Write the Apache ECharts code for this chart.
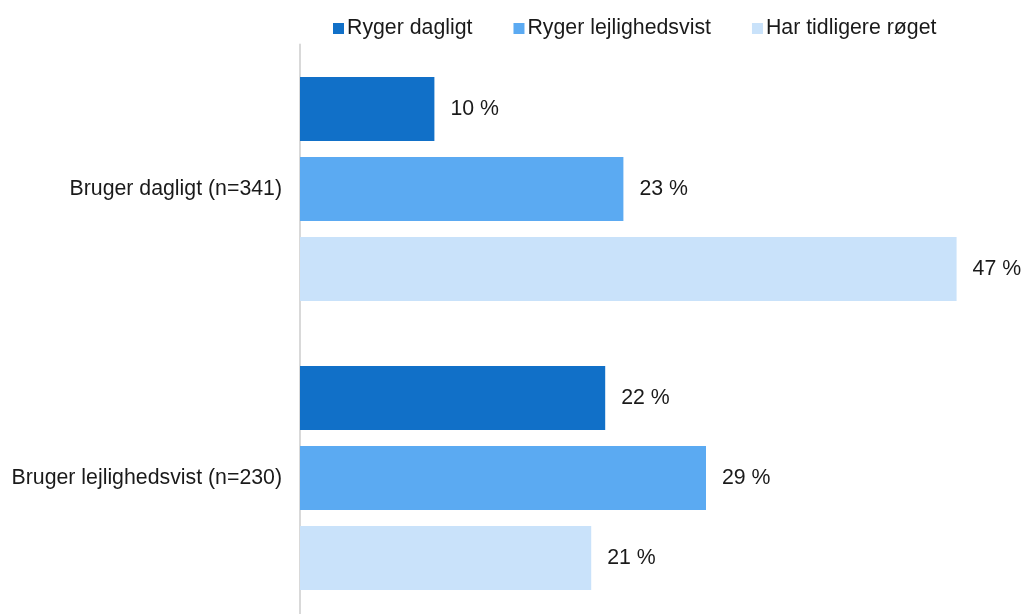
<!DOCTYPE html>
<html><head><meta charset="utf-8">
<script src="https://cdn.jsdelivr.net/npm/echarts@6/dist/echarts.min.js"></script>
<style>html,body{margin:0;padding:0;background:#fff}#c{width:1021px;height:614px}</style>
</head><body><div id="c"></div>
<script>
var categories = ['Bruger dagligt (n=341)', 'Bruger lejlighedsvist (n=230)'];
var seriesNames = ['Ryger dagligt', 'Ryger lejlighedsvist', 'Har tidligere røget'];
var rygerDagligt = [9.6, 21.8];
var rygerLejlighedsvist = [23.1, 29.0];
var harTidligere = [46.9, 20.8];
var colors = ['#1170C8', '#5BAAF2', '#C9E2FA'];
var allData = [rygerDagligt, rygerLejlighedsvist, harTidligere];
var font = '"Liberation Sans", Arial, sans-serif';
var fs = 21.3;
var chart = echarts.init(document.getElementById('c'));
chart.setOption({
  animation: false,
  textStyle: {fontFamily: font},
  legend: {
    top: 13, left: 328, itemWidth: 11, itemHeight: 11, itemGap: 41,
    icon: 'rect',
    textStyle: {fontFamily: font, fontSize: fs, color: '#1a1a1a', padding: [0, 0, 0, -2]},
    data: seriesNames
  },
  grid: {left: 300, right: 21, top: 44.5, height: 578, containLabel: false, outerBoundsMode: 'none'},
  xAxis: {type: 'value', min: 0, max: 50, show: false},
  yAxis: {
    type: 'category', inverse: true, data: categories,
    axisLine: {show: true, lineStyle: {color: '#d9d9d9', width: 2}},
    axisTick: {show: false},
    axisLabel: {fontFamily: font, fontSize: fs, color: '#1a1a1a', margin: 18}
  },
  series: allData.map(function (d, i) {
    return {
      name: seriesNames[i], type: 'bar', data: d,
      barWidth: 64, barGap: '25%',
      itemStyle: {color: colors[i]},
      label: {
        show: true, position: 'right', distance: 16,
        fontFamily: font, fontSize: fs, color: '#1a1a1a',
        formatter: function (p) { return Math.round(p.value) + ' %'; }
      }
    };
  })
});
</script></body></html>
